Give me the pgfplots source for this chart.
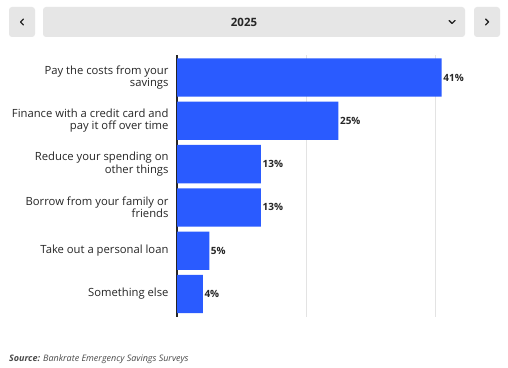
\documentclass[border=0pt]{standalone}
\usepackage{pgfplots}
\pgfplotsset{compat=1.18}
\usepackage{fontspec}
\setmainfont{Open Sans}
\definecolor{barblue}{HTML}{2A5BFF}
\definecolor{hdrgray}{HTML}{E6E6E6}
\definecolor{gridgray}{HTML}{E3E3E3}
\definecolor{srcgray}{HTML}{4A4A4A}
\begin{document}
\begin{tikzpicture}
\useasboundingbox[fill=white] (0,0) rectangle (508bp,368bp);
% header
\fill[hdrgray, rounded corners=3bp] (9bp,331bp) rectangle (35bp,361bp);
\fill[hdrgray, rounded corners=3bp] (43bp,331bp) rectangle (465bp,361bp);
\fill[hdrgray, rounded corners=3bp] (474bp,331bp) rectangle (500bp,361bp);
\node[font=\fontsize{11.5}{13}\selectfont\bfseries, text=black!85] at (244bp,346bp) {2025};
\draw[line width=1.4bp, black!85, line cap=round, line join=round] (23.5bp,349bp) -- (20.5bp,346bp) -- (23.5bp,343bp);
\draw[line width=1.4bp, black!85, line cap=round, line join=round] (485.5bp,349bp) -- (488.5bp,346bp) -- (485.5bp,343bp);
\draw[line width=1.4bp, black!85, line cap=round, line join=round] (449bp,347.5bp) -- (452bp,344.5bp) -- (455bp,347.5bp);
\begin{axis}[
  at={(177bp,51bp)}, anchor=south west,
  scale only axis, width=297bp, height=262bp,
  xbar, bar width=38.3bp,
  xmin=0, xmax=46,
  ymin=-0.52, ymax=5.53, y dir=reverse,
  axis x line*=bottom,
  x axis line style={draw=none},
  axis y line*=left,
  y axis line style={line width=1.5bp, black!85, -},
  xtick={0,20,40}, xticklabels={},
  xmajorgrids, grid style={gridgray, line width=0.8bp},
  ytick={0,1,2,3,4,5},
  yticklabels={{Pay the costs from your\\savings},{Finance with a credit card and\\pay it off over time},{Reduce your spending on\\other things},{Borrow from your family or\\friends},{Take out a personal loan},{Something else}},
  y tick label style={align=right, font=\fontsize{11.3}{12.3}\selectfont, text=black!85},
  major tick length=0pt,
  yticklabel shift=5bp,
  /pgf/number format/assume math mode=true,
  nodes near coords={\pgfmathprintnumber{\pgfplotspointmeta}\%},
  nodes near coords style={font=\fontsize{10}{12}\selectfont\bfseries, text=black!85, inner xsep=1.5bp},
  point meta=x,
  clip=false,
]
\addplot[fill=barblue, draw=none] coordinates {(41,0) (25,1) (13,2) (13,3) (5,4) (4,5)};
\end{axis}
\node[anchor=base west, font=\fontsize{9}{10}\selectfont\itshape, text=srcgray, inner sep=0pt] at (9bp,7bp) {\textbf{Source:} Bankrate Emergency Savings Surveys};
\end{tikzpicture}
\end{document}
